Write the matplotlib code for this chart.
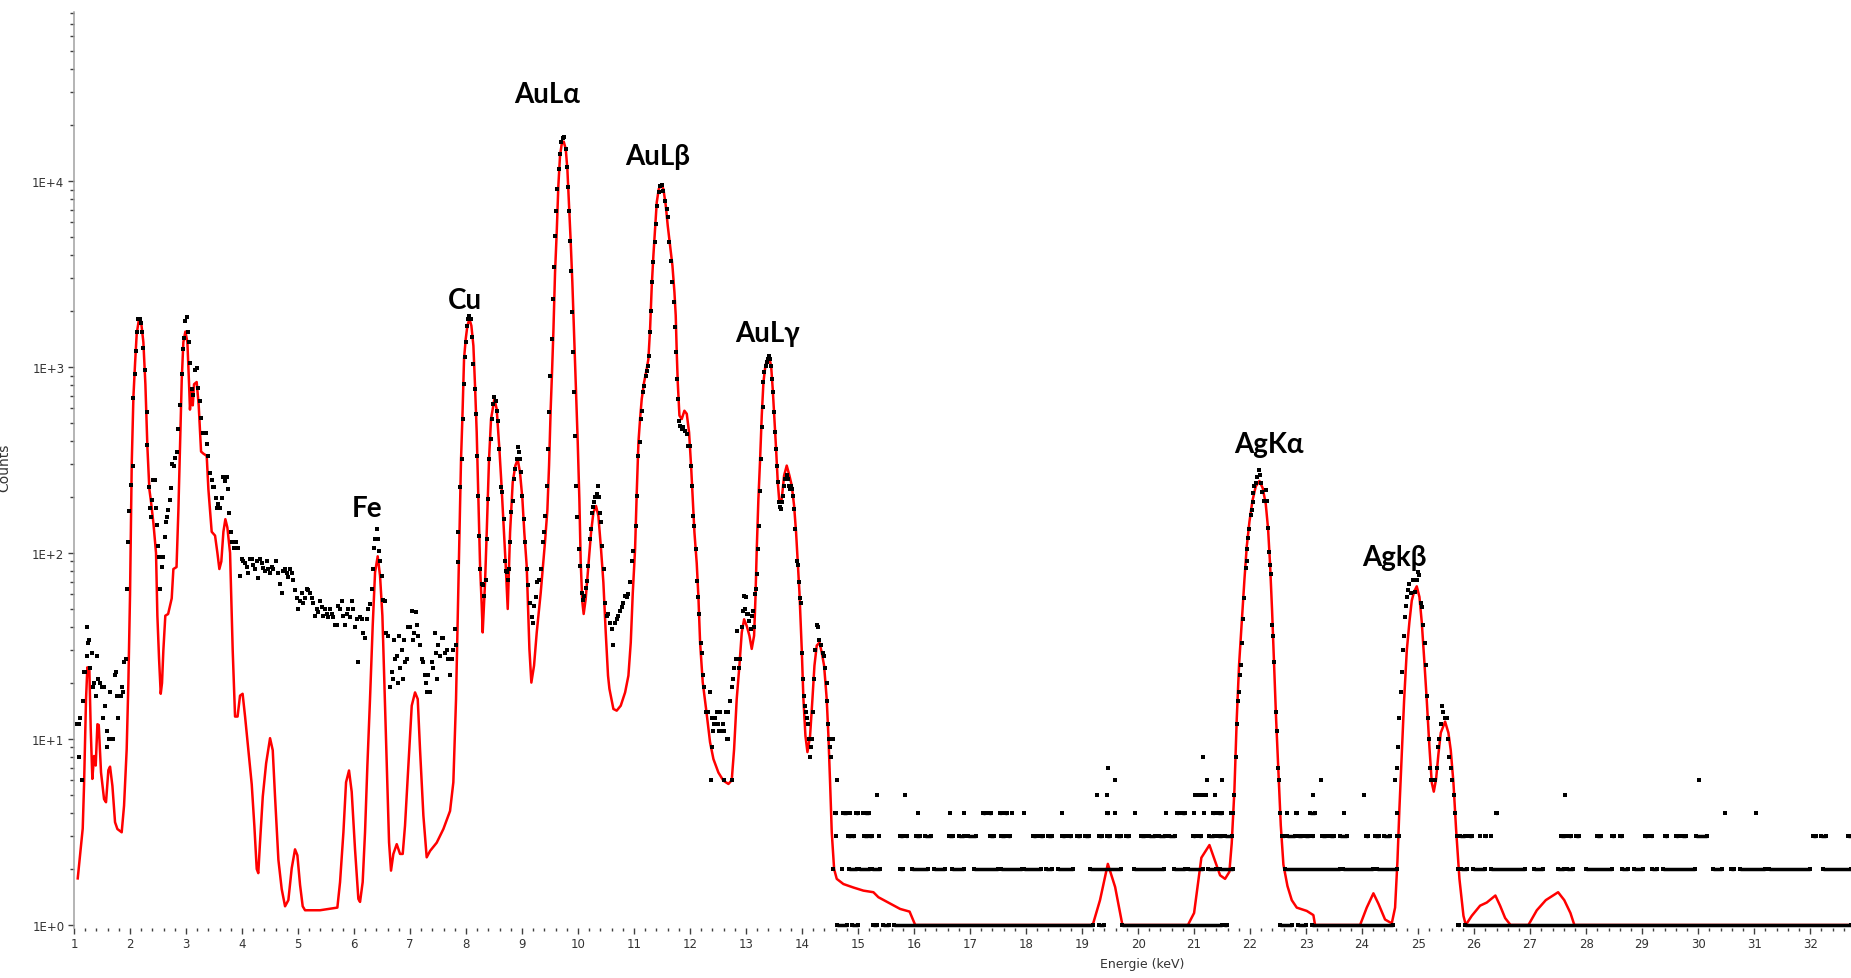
import matplotlib.pyplot as plt
from matplotlib.ticker import FixedLocator, FixedFormatter, NullFormatter

# fitted spectrum (red line)
fit_kev = [1.066, 1.155, 1.179, 1.214, 1.238, 1.274, 1.298, 1.327, 1.357, 1.387, 1.417, 1.441, 1.482, 1.536, 1.571,
           1.613, 1.643, 1.685, 1.732, 1.774, 1.851, 1.893, 1.94, 1.97, 2.0, 2.03, 2.06, 2.09, 2.119, 2.16, 2.196,
           2.238, 2.274, 2.31, 2.345, 2.375, 2.417, 2.464, 2.488, 2.518, 2.548, 2.571, 2.595, 2.63, 2.68, 2.744,
           2.774, 2.83, 2.863, 2.893, 2.923, 2.952, 2.988, 3.024, 3.054, 3.07, 3.1, 3.12, 3.143, 3.19, 3.226, 3.268,
           3.31, 3.369, 3.399, 3.458, 3.518, 3.56, 3.595, 3.63, 3.667, 3.702, 3.738, 3.786, 3.833, 3.875, 3.92,
           3.964, 4.01, 4.054, 4.113, 4.173, 4.22, 4.262, 4.29, 4.32, 4.37, 4.43, 4.5, 4.548, 4.589, 4.649, 4.708,
           4.768, 4.827, 4.887, 4.946, 4.988, 5.036, 5.083, 5.125, 5.393, 5.702, 5.75, 5.81, 5.857, 5.91, 5.958,
           6.017, 6.077, 6.107, 6.154, 6.196, 6.238, 6.285, 6.333, 6.375, 6.422, 6.464, 6.506, 6.541, 6.583, 6.625,
           6.66, 6.702, 6.762, 6.821, 6.869, 6.91, 6.97, 7.03, 7.089, 7.137, 7.178, 7.238, 7.297, 7.357, 7.476,
           7.595, 7.714, 7.773, 7.821, 7.85, 7.88, 7.91, 7.934, 7.964, 7.994, 8.024, 8.06, 8.095, 8.131, 8.16, 8.19,
           8.22, 8.25, 8.28, 8.297, 8.339, 8.369, 8.41, 8.446, 8.506, 8.547, 8.595, 8.63, 8.667, 8.708, 8.744,
           8.786, 8.833, 8.88, 8.923, 8.964, 9.006, 9.04, 9.083, 9.131, 9.166, 9.214, 9.262, 9.333, 9.41, 9.452,
           9.482, 9.511, 9.535, 9.559, 9.589, 9.619, 9.648, 9.678, 9.708, 9.744, 9.78, 9.809, 9.839, 9.869, 9.898,
           9.934, 9.964, 9.994, 10.023, 10.047, 10.075, 10.1, 10.136, 10.184, 10.232, 10.274, 10.321, 10.363,
           10.41, 10.452, 10.494, 10.535, 10.56, 10.631, 10.69, 10.762, 10.84, 10.899, 10.941, 10.977, 11.018,
           11.048, 11.078, 11.107, 11.137, 11.179, 11.226, 11.256, 11.286, 11.316, 11.345, 11.375, 11.405, 11.441,
           11.482, 11.524, 11.566, 11.601, 11.643, 11.685, 11.721, 11.744, 11.762, 11.78, 11.81, 11.851, 11.899,
           11.941, 11.982, 12.018, 12.048, 12.078, 12.119, 12.149, 12.179, 12.226, 12.286, 12.357, 12.417, 12.506,
           12.595, 12.685, 12.744, 12.786, 12.833, 12.881, 12.923, 12.965, 13.012, 13.06, 13.101, 13.143, 13.167,
           13.19, 13.22, 13.25, 13.28, 13.31, 13.345, 13.381, 13.411, 13.447, 13.476, 13.506, 13.536, 13.566,
           13.595, 13.637, 13.679, 13.726, 13.774, 13.816, 13.857, 13.893, 13.923, 13.953, 13.994, 14.024, 14.06,
           14.096, 14.143, 14.185, 14.221, 14.262, 14.31, 14.351, 14.393, 14.44, 14.47, 14.5, 14.53, 14.572,
           14.619, 14.738, 14.917, 15.095, 15.274, 15.363, 15.75, 15.92, 16.02, 19.19, 19.32, 19.46, 19.59, 19.72,
           20.89, 21.0, 21.13, 21.274, 21.375, 21.464, 21.553, 21.63, 21.672, 21.72, 21.762, 21.803, 21.851,
           21.899, 21.94, 21.988, 22.042, 22.101, 22.167, 22.226, 22.28, 22.321, 22.357, 22.393, 22.429, 22.464,
           22.506, 22.548, 22.595, 22.667, 22.744, 22.833, 23.012, 23.13, 23.16, 23.964, 24.083, 24.202, 24.292,
           24.41, 24.53, 24.589, 24.631, 24.667, 24.708, 24.75, 24.798, 24.845, 24.887, 24.929, 24.976, 25.024,
           25.065, 25.107, 25.155, 25.202, 25.244, 25.28, 25.321, 25.363, 25.405, 25.482, 25.541, 25.583, 25.631,
           25.678, 25.738, 25.81, 25.851, 25.958, 26.107, 26.226, 26.38, 26.464, 26.554, 26.65, 26.97, 27.12,
           27.28, 27.5, 27.61, 27.72, 27.79, 32.73]
fit_counts = [1.78, 3.3, 5.7, 16.4, 24.3, 23.3, 11.3, 6.1, 8.1, 7.2, 12, 11.9, 6.6, 4.75, 4.57,
              6.8, 7.1, 5.6, 3.57, 3.28, 3.15, 4.38, 8.8, 20, 60, 300, 690, 1050, 1510, 1810, 1766,
              1360, 808, 370, 220, 188, 145, 100, 46, 27, 17.5, 20, 30, 46, 47, 57,
              82, 84, 169, 370, 851, 1360, 1550, 1360, 808, 590, 767, 622, 808, 830, 622, 351,
              342, 333, 220, 130, 124, 100, 82, 90, 130, 152, 137, 100, 30, 13.2, 13.2,
              17.1, 17.5, 13.2, 8.7, 5.7, 3.4, 2.0, 1.9, 2.75, 4.9, 7.4, 10.1, 8.7, 4.9, 2.24, 1.56,
              1.26, 1.36, 2.02, 2.55, 2.37, 1.64, 1.26, 1.2, 1.2, 1.24, 1.7, 3.15, 5.85, 6.77, 5.2,
              2.56, 1.38, 1.33, 1.7, 3.15, 7.2, 16.4, 40.6, 78.7, 96, 75.5, 46, 20, 7.2, 2.78,
              1.96, 2.41, 2.72, 2.41, 2.41, 3.42, 7.2, 15.1, 17.8, 16.4, 8.8, 3.87, 2.31, 2.5, 2.77,
              3.28, 4.1, 5.85, 16.4, 44, 129, 318, 525, 1105, 1415, 1668, 1810, 1668, 1300, 795, 446,
              195, 85.6, 52, 37.4, 69.5, 129, 318, 525, 673, 594, 362, 240, 146, 86, 50,
              129, 240, 295, 318, 270, 195, 129, 85, 30.5, 20.1, 24.8, 37.4, 61, 115, 170,
              295, 594, 935, 1535, 3227, 5300, 9440, 13680, 15800, 16280, 14870, 11600, 7380, 4680, 2850,
              1358, 731, 394, 195, 90, 55, 47, 56.5, 85, 129, 165, 179, 158,
              105, 69.5, 37.4, 21.9, 18.6, 14.5, 14.2, 15.1, 17.8, 21.9, 33, 61, 105,
              212, 394, 525, 673, 828, 975, 1105, 1600, 2735, 3970, 5520, 7680, 9060,
              9520, 9060, 7380, 5760, 4490, 3510, 2520, 1890, 1200, 828, 548, 525, 582,
              560, 446, 295, 195, 129, 88, 58, 33, 20.2, 14.5, 9.6, 7.8, 6.6,
              5.97, 5.73, 6.0, 8.8, 16.4, 24.8, 37.4, 44, 40.5, 35.9, 30.5, 35.9, 56.6,
              103, 195, 316, 547, 828, 1016, 1105, 1127, 1016, 762, 525, 362, 240,
              187, 195, 261, 295, 261, 230, 180, 129, 89, 61.5, 30.5, 16.4, 10.4,
              8.5, 10.4, 16.4, 24.8, 31.8, 33, 29.2, 24.8, 16.4, 10.4, 5.85, 3.15, 2.0,
              1.77, 1.66, 1.59, 1.53, 1.5, 1.41, 1.22, 1.18, 1.0, 1.0, 1.36, 2.13, 1.6, 1.0,
              1.0, 1.16, 2.3, 2.69, 2.2, 1.85, 1.77, 1.93, 2.75, 5.3, 12.9, 25, 42.6,
              72, 108, 147, 191, 228, 244, 223, 183, 135, 86.5, 48.7, 25, 12.9,
              6.65, 3.43, 2.11, 1.62, 1.36, 1.24, 1.19, 1.13, 1.0, 1.0, 1.24, 1.48, 1.3,
              1.07, 1.02, 1.24, 2.2, 4.27, 8.3, 16.1, 29.9, 42.6, 55.5, 62, 66.2, 58,
              42.6, 27.4, 16.1, 9.06, 5.82, 5.21, 6.08, 8.3, 10.8, 12.4, 10.8, 8.7, 5.82,
              3.28, 1.77, 1.12, 1.0, 1.12, 1.27, 1.32, 1.44, 1.27, 1.09, 1.0, 1.0, 1.2,
              1.36, 1.5, 1.36, 1.16, 1.0, 1.0]

# measured channels (black dots)
meas = [
    (1.048, 12), (1.083, 8), (1.095, 12), (1.107, 13), (1.137, 6), (1.155, 16), (1.179, 23), (1.202, 23),
    (1.226, 40), (1.238, 28), (1.25, 33), (1.274, 34), (1.286, 24), (1.321, 29), (1.333, 19), (1.357, 20),
    (1.393, 17), (1.417, 28), (1.435, 21), (1.464, 20), (1.494, 19), (1.512, 13), (1.536, 19), (1.554, 15),
    (1.583, 11), (1.595, 9), (1.619, 10), (1.643, 18), (1.673, 10), (1.702, 10), (1.732, 22), (1.75, 23),
    (1.762, 17), (1.792, 13), (1.81, 17), (1.833, 17), (1.851, 19), (1.881, 18), (1.893, 26), (1.929, 27),
    (1.94, 64), (1.97, 115), (1.988, 169), (2.018, 231), (2.048, 292), (2.06, 681), (2.089, 921),
    (2.113, 1225), (2.131, 1549), (2.149, 1811), (2.179, 1811), (2.196, 1718), (2.214, 1549), (2.238, 1259),
    (2.268, 959), (2.298, 576), (2.31, 380), (2.333, 226), (2.357, 174), (2.369, 156), (2.393, 193),
    (2.417, 248), (2.44, 248), (2.458, 174), (2.476, 141), (2.506, 109), (2.524, 95), (2.536, 64),
    (2.565, 84), (2.595, 95), (2.625, 122), (2.643, 146), (2.667, 156), (2.685, 171), (2.714, 193),
    (2.732, 223), (2.756, 300), (2.786, 292), (2.804, 325), (2.833, 351), (2.863, 462), (2.893, 623),
    (2.923, 921), (2.952, 1245), (2.97, 1432), (2.988, 1766), (3.012, 1858), (3.03, 1549), (3.054, 1361),
    (3.071, 1047), (3.101, 759), (3.131, 710), (3.161, 969), (3.19, 984), (3.22, 767), (3.25, 657),
    (3.274, 532), (3.298, 444), (3.321, 444), (3.351, 444), (3.369, 386), (3.399, 333), (3.429, 270),
    (3.458, 248), (3.488, 226), (3.506, 226), (3.53, 198), (3.548, 174), (3.577, 183), (3.607, 174),
    (3.637, 198), (3.667, 257), (3.696, 244), (3.726, 257), (3.744, 220), (3.768, 165), (3.798, 130),
    (3.827, 115), (3.857, 106), (3.887, 115), (3.923, 106), (3.964, 75), (3.994, 93), (4.024, 90),
    (4.054, 88), (4.083, 84), (4.113, 78), (4.143, 93), (4.173, 93), (4.202, 86), (4.232, 82), (4.262, 90),
    (4.292, 73), (4.32, 93), (4.351, 88), (4.381, 83), (4.41, 80), (4.44, 91), (4.47, 82), (4.5, 78),
    (4.53, 84), (4.56, 82), (4.607, 91), (4.649, 78), (4.679, 68), (4.708, 61), (4.738, 80), (4.768, 82),
    (4.798, 78), (4.827, 74), (4.857, 82), (4.887, 78), (4.917, 72), (4.946, 63), (4.976, 57), (5.006, 50),
    (5.036, 55), (5.065, 61), (5.095, 54), (5.125, 57), (5.155, 64), (5.185, 63), (5.214, 61), (5.244, 57),
    (5.274, 54), (5.304, 46), (5.333, 50), (5.363, 48), (5.393, 55), (5.423, 51), (5.452, 46), (5.482, 50),
    (5.512, 47), (5.542, 45), (5.571, 50), (5.601, 47), (5.631, 45), (5.66, 41), (5.69, 41), (5.72, 52),
    (5.75, 50), (5.78, 55), (5.81, 46), (5.839, 41), (5.869, 47), (5.899, 50), (5.929, 45), (5.958, 55),
    (5.988, 50), (6.017, 40), (6.047, 44), (6.077, 26), (6.107, 45), (6.137, 44), (6.166, 37), (6.196, 35),
    (6.226, 44), (6.256, 50), (6.285, 53), (6.315, 64), (6.333, 82), (6.357, 107), (6.375, 119),
    (6.404, 135), (6.434, 119), (6.452, 102), (6.464, 90), (6.494, 75), (6.523, 56), (6.553, 55),
    (6.571, 37), (6.613, 36), (6.642, 19), (6.672, 23), (6.69, 21), (6.714, 34), (6.732, 27), (6.762, 28),
    (6.791, 20), (6.809, 36), (6.821, 24), (6.851, 30), (6.869, 21), (6.892, 34), (6.91, 26), (6.94, 27),
    (6.97, 40), (7.0, 40), (7.029, 49), (7.047, 34), (7.071, 37), (7.107, 48), (7.131, 41), (7.149, 36),
    (7.178, 32), (7.208, 27), (7.238, 26), (7.268, 22), (7.286, 20), (7.31, 18), (7.327, 22), (7.357, 18),
    (7.387, 26), (7.416, 24), (7.446, 37), (7.464, 29), (7.488, 21), (7.506, 32), (7.536, 28), (7.565, 35),
    (7.595, 35), (7.625, 29), (7.655, 30), (7.685, 27), (7.714, 22), (7.744, 27), (7.774, 30), (7.804, 39),
    (7.821, 32), (7.851, 89), (7.863, 129), (7.892, 226), (7.922, 320), (7.952, 526), (7.97, 811),
    (7.982, 1127), (7.994, 1360), (8.012, 1670), (8.03, 1811), (8.059, 1890), (8.089, 1811), (8.113, 1445),
    (8.131, 1040), (8.161, 762), (8.178, 558), (8.202, 333), (8.22, 203), (8.232, 124), (8.25, 82),
    (8.28, 68), (8.309, 67), (8.327, 59), (8.351, 72), (8.369, 119), (8.399, 195), (8.417, 320),
    (8.446, 410), (8.458, 526), (8.488, 632), (8.506, 687), (8.53, 659), (8.547, 582), (8.565, 515),
    (8.589, 362), (8.619, 226), (8.649, 212), (8.678, 152), (8.696, 91), (8.708, 80), (8.726, 79),
    (8.744, 72), (8.762, 82), (8.786, 114), (8.804, 166), (8.833, 191), (8.857, 250), (8.881, 283),
    (8.905, 320), (8.923, 370), (8.94, 348), (8.964, 320), (8.982, 272), (9.006, 203), (9.035, 152),
    (9.059, 114), (9.083, 82), (9.113, 67), (9.143, 54), (9.173, 45), (9.19, 42), (9.22, 52), (9.25, 58),
    (9.274, 70), (9.303, 72), (9.333, 82), (9.369, 114), (9.393, 129), (9.416, 159), (9.446, 230),
    (9.47, 362), (9.488, 570), (9.506, 898), (9.53, 1415), (9.548, 2323), (9.565, 3436), (9.589, 5090),
    (9.613, 6930), (9.631, 9060), (9.654, 11610), (9.672, 13960), (9.702, 16150), (9.726, 16950),
    (9.756, 17180), (9.78, 14870), (9.797, 11850), (9.821, 9250), (9.839, 6930), (9.857, 4780),
    (9.875, 3300), (9.893, 1970), (9.911, 1200), (9.928, 731), (9.952, 428), (9.97, 230), (9.988, 156),
    (10.011, 105), (10.035, 85), (10.065, 61), (10.095, 56), (10.113, 59), (10.142, 65), (10.166, 71),
    (10.184, 85), (10.214, 119), (10.232, 135), (10.256, 165), (10.273, 176), (10.291, 187), (10.309, 199),
    (10.333, 207), (10.357, 230), (10.375, 199), (10.392, 165), (10.41, 146), (10.434, 109), (10.464, 82),
    (10.482, 54), (10.511, 46), (10.541, 47), (10.571, 42), (10.601, 39), (10.631, 32), (10.66, 42),
    (10.69, 44), (10.72, 46), (10.75, 49), (10.779, 51), (10.809, 54), (10.839, 59), (10.869, 58),
    (10.899, 60), (10.928, 70), (10.959, 91), (10.988, 103), (11.036, 140), (11.06, 203), (11.078, 333),
    (11.107, 394), (11.125, 526), (11.143, 582), (11.167, 731), (11.185, 794), (11.209, 899), (11.226, 956),
    (11.244, 1016), (11.268, 1151), (11.286, 1537), (11.304, 2011), (11.328, 2853), (11.345, 3655),
    (11.369, 4680), (11.393, 5875), (11.417, 7380), (11.441, 8700), (11.465, 9360), (11.494, 9520),
    (11.524, 8870), (11.554, 7830), (11.584, 7070), (11.613, 6380), (11.631, 4680), (11.655, 3730),
    (11.685, 2853), (11.715, 2227), (11.738, 1635), (11.75, 1200), (11.768, 863), (11.78, 673),
    (11.798, 515), (11.822, 484), (11.851, 465), (11.881, 474), (11.911, 455), (11.941, 437), (11.97, 378),
    (12.0, 378), (12.018, 295), (12.042, 230), (12.06, 159), (12.078, 140), (12.101, 105), (12.131, 71),
    (12.149, 58), (12.167, 47), (12.191, 33), (12.214, 29), (12.238, 22), (12.256, 19), (12.286, 14),
    (12.327, 14), (12.357, 18), (12.369, 6), (12.387, 13), (12.399, 9), (12.405, 11), (12.429, 12),
    (12.446, 13), (12.476, 14), (12.488, 12), (12.506, 12), (12.524, 11), (12.536, 14), (12.566, 11),
    (12.595, 12), (12.607, 6), (12.613, 11), (12.637, 14), (12.655, 10), (12.673, 10), (12.685, 14),
    (12.714, 16), (12.744, 19), (12.756, 6), (12.762, 21), (12.792, 24), (12.816, 27), (12.833, 38),
    (12.851, 27), (12.869, 24), (12.893, 27), (12.923, 40), (12.941, 49), (12.965, 59), (12.982, 50),
    (13.0, 58), (13.024, 47), (13.042, 47), (13.06, 43), (13.084, 39), (13.101, 46), (13.119, 49),
    (13.143, 40), (13.161, 60), (13.173, 64), (13.19, 77), (13.208, 105), (13.232, 140), (13.25, 216),
    (13.268, 320), (13.286, 474), (13.298, 607), (13.31, 828), (13.328, 935), (13.351, 1016),
    (13.369, 1059), (13.387, 1104), (13.411, 1151), (13.435, 1104), (13.452, 1016), (13.47, 863),
    (13.488, 731), (13.506, 570), (13.524, 446), (13.542, 362), (13.56, 295), (13.577, 240), (13.595, 187),
    (13.613, 176), (13.631, 173), (13.649, 187), (13.667, 203), (13.685, 230), (13.703, 250), (13.726, 261),
    (13.75, 250), (13.768, 230), (13.786, 221), (13.81, 230), (13.827, 221), (13.845, 203), (13.863, 173),
    (13.881, 135), (13.905, 91), (13.923, 86), (13.941, 70), (13.964, 57), (13.982, 54), (13.994, 29),
    (14.012, 21), (14.036, 17), (14.054, 15), (14.071, 14), (14.095, 13), (14.113, 12), (14.131, 10),
    (14.143, 8), (14.161, 9), (14.185, 10), (14.202, 14), (14.22, 21), (14.238, 30), (14.262, 41),
    (14.286, 40), (14.31, 34), (14.333, 32), (14.369, 29), (14.399, 28), (14.417, 24), (14.44, 20),
    (14.452, 16), (14.464, 12), (14.476, 10), (14.5, 9), (14.512, 8), (14.548, 10), (14.619, 6),
    # AgK alpha
    (21.672, 3), (21.702, 4), (21.72, 5), (21.744, 8), (21.774, 12), (21.792, 16), (21.809, 18),
    (21.821, 22), (21.839, 25), (21.863, 33), (21.881, 44), (21.899, 57), (21.922, 83), (21.94, 90),
    (21.952, 105), (21.97, 120), (21.988, 135), (22.012, 160), (22.03, 171), (22.047, 187), (22.059, 209),
    (22.077, 229), (22.101, 239), (22.131, 255), (22.161, 279), (22.178, 261), (22.196, 239), (22.22, 214),
    (22.25, 191), (22.28, 219), (22.298, 191), (22.315, 137), (22.339, 101), (22.357, 86), (22.375, 77),
    (22.399, 41), (22.417, 36), (22.434, 26), (22.458, 14), (22.482, 11), (22.506, 7), (22.524, 6),
    (22.542, 4), (22.565, 3),
    # AgK beta
    (24.589, 6), (24.619, 7), (24.649, 9), (24.666, 13), (24.69, 18), (24.708, 23), (24.726, 30),
    (24.75, 36), (24.768, 45), (24.786, 52), (24.809, 58), (24.827, 63), (24.845, 68), (24.869, 61),
    (24.905, 72), (24.946, 62), (24.976, 72), (25.006, 79), (25.024, 76), (25.047, 54), (25.077, 51),
    (25.095, 41), (25.119, 33), (25.137, 25), (25.155, 17), (25.173, 13), (25.19, 10), (25.214, 7),
    (25.232, 6), (25.256, 6), (25.274, 6), (25.303, 6), (25.345, 7), (25.363, 9), (25.381, 10),
    (25.405, 12), (25.429, 15), (25.452, 14), (25.482, 13), (25.512, 13), (25.541, 10), (25.559, 8),
    (25.583, 7), (25.613, 6), (25.643, 5), (25.667, 4), (25.69, 3), (25.72, 2),
]
meas_kev = [e for e, c in meas]
meas_counts = [c for e, c in meas]

# low-count tail: runs of neighbouring channels with the same count (keV from, keV to)
tail_levels = [1, 2, 3, 4, 5, 6, 7, 8]
tail_runs = [
    [(14.63, 14.80), (14.9, 15.0), (15.26, 15.33), (15.45, 15.55), (15.65, 19.2), (19.3, 19.4),
     (19.72, 21.5), (21.54, 21.58), (22.54, 22.75), (22.85, 23.0), (23.1, 24.55), (25.72, 25.73),
     (25.84, 32.73)],
    [(14.56, 14.56), (14.714, 14.714), (14.845, 14.976), (15.012, 15.214), (15.25, 15.393), (15.75, 15.80),
     (15.97, 16.24), (16.35, 16.56), (16.67, 16.89), (17.07, 17.5), (17.56, 17.92), (17.97, 18.26),
     (18.35, 18.46), (18.57, 18.84), (19.14, 19.70), (19.92, 20.46), (20.65, 20.84), (20.89, 21.16),
     (21.25, 21.4), (21.46, 21.70), (22.62, 23.6), (23.66, 24.2), (24.26, 24.63), (25.77, 25.88),
     (25.98, 26.20), (26.31, 26.90), (27.07, 27.23), (27.5, 27.61), (27.66, 27.77), (27.99, 28.47),
     (28.64, 28.75), (28.85, 29.02), (29.18, 29.26), (29.37, 29.94), (30.26, 30.42), (30.59, 30.64),
     (30.75, 31.2), (31.26, 31.99), (32.23, 32.73)],
    [(14.607, 14.607), (14.816, 14.87), (14.9, 14.93), (15.107, 15.17), (15.2, 15.25), (15.375, 15.375),
     (15.75, 15.8), (15.85, 15.88), (16.04, 16.1), (16.2, 16.31), (16.62, 16.7), (16.8, 16.9), (16.97, 17.1),
     (17.35, 17.43), (17.56, 17.62), (17.68, 17.72), (18.13, 18.18), (18.25, 18.30), (18.40, 18.46),
     (18.65, 18.70), (18.76, 18.80), (18.91, 18.96), (19.05, 19.13), (19.30, 19.36), (19.45, 19.50),
     (19.62, 19.70), (19.78, 19.84), (20.05, 20.12), (20.2, 20.3), (20.38, 20.48), (20.55, 20.66),
     (20.98, 21.02), (21.08, 21.13), (21.27, 21.35), (21.42, 21.5), (21.56, 21.67), (22.58, 22.6),
     (22.66, 22.8), (22.86, 22.92), (22.98, 23.05), (23.1, 23.13), (23.28, 23.35), (23.42, 23.49),
     (23.61, 23.73), (24.07, 24.11), (24.23, 24.3), (24.4, 24.5), (24.63, 24.66), (25.75, 25.83),
     (25.9, 25.96), (26.1, 26.1), (26.2, 26.22), (26.31, 26.31), (27.55, 27.62), (27.7, 27.73),
     (27.82, 27.88), (28.2, 28.26), (28.47, 28.5), (28.6, 28.64), (29.05, 29.08), (29.15, 29.18),
     (29.4, 29.45), (29.61, 29.64), (29.72, 29.79), (29.96, 30.15), (32.05, 32.1), (32.2, 32.29),
     (32.68, 32.73)],
    [(14.58, 14.61), (14.73, 14.80), (14.86, 14.86), (14.96, 15.0), (15.08, 15.08), (15.13, 15.2),
     (16.075, 16.075), (16.65, 16.65), (16.89, 16.89), (17.23, 17.26), (17.33, 17.37), (17.54, 17.56),
     (17.62, 17.66), (17.75, 17.75), (17.96, 17.96), (18.64, 18.64), (19.45, 19.47), (19.59, 19.59),
     (19.95, 19.95), (20.49, 20.49), (20.69, 20.72), (20.78, 20.84), (20.99, 20.99), (21.17, 21.18),
     (21.33, 21.35), (21.42, 21.49), (21.66, 21.66), (22.655, 22.655), (22.82, 22.83), (23.07, 23.16),
     (23.67, 23.67), (24.62, 24.63), (26.39, 26.40), (30.48, 30.48), (31.04, 31.04)],
    [(15.33, 15.33), (15.84, 15.84), (19.27, 19.27), (19.44, 19.44), (21.024, 21.024), (21.08, 21.08),
     (21.137, 21.137), (21.22, 21.22), (21.375, 21.375), (23.125, 23.125), (24.035, 24.035),
     (27.62, 27.62)],
    [(19.595, 19.595), (21.226, 21.226), (21.49, 21.49), (23.27, 23.27), (24.58, 24.58), (30.02, 30.02)],
    [(19.47, 19.47)],
    [(21.165, 21.165)],
]

peak_names = ['Fe', 'Cu', 'AuLα', 'AuLβ', 'AuLγ', 'AgKα', 'Agkβ']
peak_kev = [6.23, 7.98, 9.45, 11.43, 13.39, 22.34, 24.58]
peak_label_counts = [158, 2070, 26600, 12340, 1385, 348, 86.5]

fig = plt.figure(figsize=(18.51, 9.79), dpi=100)
ax = fig.add_axes([0.04, 0.0511, 0.96, 0.9357])
ax.set_yscale('log')

ax.plot(fit_kev, fit_counts, color='#ff0000', lw=1.8, zorder=2)
ax.plot(meas_kev, meas_counts, 's', color='black', ms=2.5, mew=0, zorder=3)
for level, runs in zip(tail_levels, tail_runs):
    starts = [a for a, b in runs]
    ends = [b for a, b in runs]
    ax.hlines([level] * len(runs), starts, ends, colors='black', lw=2.5, zorder=3)
    ax.plot(starts + ends, [level] * (2 * len(runs)), 's', color='black', ms=2.5, mew=0, zorder=3)

for name, x, y in zip(peak_names, peak_kev, peak_label_counts):
    ax.text(x, y, name, ha='center', va='baseline', fontsize=20, fontweight='bold',
            family=['Lato', 'Noto Sans', 'DejaVu Sans'], color='black')

ax.set_xlim(1, 32.73)
ax.set_ylim(0.9636, 81100)

decades = [1, 10, 100, 1000, 10000]
ax.yaxis.set_major_locator(FixedLocator(decades))
ax.yaxis.set_major_formatter(FixedFormatter(['1E+0', '1E+1', '1E+2', '1E+3', '1E+4']))
ax.yaxis.set_minor_locator(FixedLocator([m * d for d in decades for m in range(2, 10)]))
ax.yaxis.set_minor_formatter(NullFormatter())

ax.xaxis.set_major_locator(FixedLocator(list(range(1, 33))))
ax.xaxis.set_minor_locator(FixedLocator([1 + 0.2 * i for i in range(159)]))

for side in ['top', 'right', 'bottom']:
    ax.spines[side].set_visible(False)
ax.spines['left'].set_color('#a0a0a0')
ax.spines['left'].set_linewidth(1.1)

ax.tick_params(axis='y', which='major', length=4, width=1, color='#404040', pad=3,
               labelsize=8.5, labelcolor='#333333')
ax.tick_params(axis='y', which='minor', length=3, width=1, color='#404040')
ax.tick_params(axis='x', which='major', length=4.5, width=1, color='#404040', pad=2,
               labelsize=8.5, labelcolor='#333333')
ax.tick_params(axis='x', which='minor', length=2.5, width=1, color='#404040')

ax.set_xlabel('Energie (keV)', fontsize=9, color='#333333')
ax.xaxis.set_label_coords(0.601, -0.032)
# y label sits against the left edge, partly cut off as in the original screenshot
fig.text(0.0025, 0.522, 'Counts', rotation=90, ha='center', va='center', fontsize=10, color='#333333')

fig.savefig('out.png', dpi=100)
